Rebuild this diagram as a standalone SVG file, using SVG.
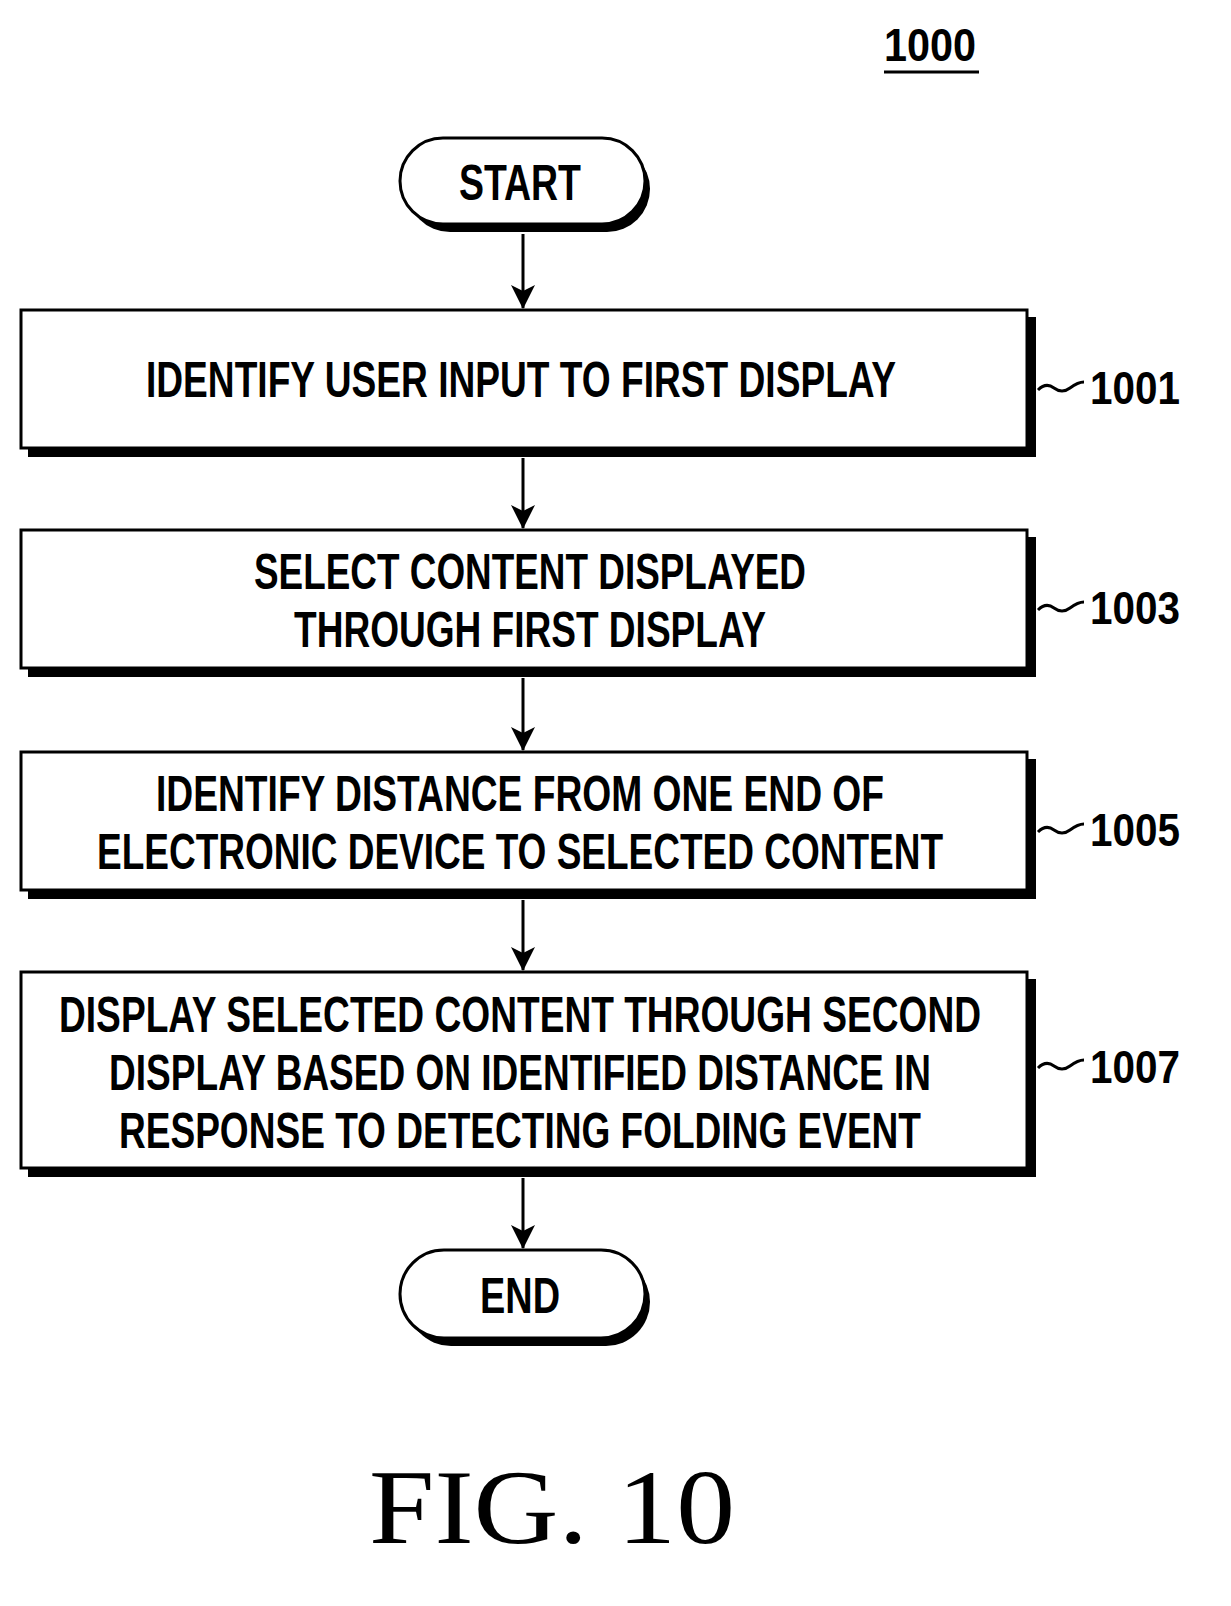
<svg xmlns="http://www.w3.org/2000/svg" width="1231" height="1606" viewBox="0 0 1231 1606">
<style>
.b{fill:#fff;stroke:#000;stroke-width:3}
.s{fill:#000}
.t{font-family:"Liberation Sans",Arial,sans-serif;font-weight:bold;font-size:50px;text-anchor:middle}
.r{font-family:"Liberation Sans",Arial,sans-serif;font-weight:bold;font-size:46px}
.c{fill:none;stroke:#000;stroke-width:3}
</style>
<defs>
<marker id="ah" viewBox="0 0 24 30" refX="23" refY="15" markerWidth="24" markerHeight="30" orient="auto" markerUnits="userSpaceOnUse"><path d="M0,3 L24,15 L0,27 L6,15 Z" fill="#000"/></marker></defs>
<text x="930" y="61" class="r" text-anchor="middle" textLength="92" lengthAdjust="spacingAndGlyphs">1000</text>
<line x1="884" y1="72" x2="979" y2="72" stroke="#000" stroke-width="3"/>
<g id="start"><rect x="407" y="146" width="243" height="86" rx="43" class="s"/><rect x="400" y="138" width="245" height="86" rx="43" class="b"/><text x="520" y="200" class="t" textLength="122" lengthAdjust="spacingAndGlyphs">START</text></g>
<g id="n1001"><rect x="28" y="317" width="1008" height="140" class="s"/><rect x="21" y="310" width="1006" height="138" class="b"/><text x="521" y="397" class="t" textLength="750" lengthAdjust="spacingAndGlyphs">IDENTIFY USER INPUT TO FIRST DISPLAY</text><text x="1090" y="404" class="r" textLength="90" lengthAdjust="spacingAndGlyphs">1001</text></g>
<g id="n1003"><rect x="28" y="537" width="1008" height="140" class="s"/><rect x="21" y="530" width="1006" height="138" class="b"/><text x="530" y="589" class="t" textLength="552" lengthAdjust="spacingAndGlyphs">SELECT CONTENT DISPLAYED</text><text x="530" y="647" class="t" textLength="472" lengthAdjust="spacingAndGlyphs">THROUGH FIRST DISPLAY</text><text x="1090" y="624" class="r" textLength="90" lengthAdjust="spacingAndGlyphs">1003</text></g>
<g id="n1005"><rect x="28" y="759" width="1008" height="140" class="s"/><rect x="21" y="752" width="1006" height="138" class="b"/><text x="520" y="811" class="t" textLength="728" lengthAdjust="spacingAndGlyphs">IDENTIFY DISTANCE FROM ONE END OF</text><text x="520" y="869" class="t" textLength="846" lengthAdjust="spacingAndGlyphs">ELECTRONIC DEVICE TO SELECTED CONTENT</text><text x="1090" y="846" class="r" textLength="90" lengthAdjust="spacingAndGlyphs">1005</text></g>
<g id="n1007"><rect x="28" y="979" width="1008" height="198" class="s"/><rect x="21" y="972" width="1006" height="196" class="b"/><text x="520" y="1032" class="t" textLength="922" lengthAdjust="spacingAndGlyphs">DISPLAY SELECTED CONTENT THROUGH SECOND</text><text x="520" y="1090" class="t" textLength="822" lengthAdjust="spacingAndGlyphs">DISPLAY BASED ON IDENTIFIED DISTANCE IN</text><text x="520" y="1148" class="t" textLength="802" lengthAdjust="spacingAndGlyphs">RESPONSE TO DETECTING FOLDING EVENT</text><text x="1090" y="1083" class="r" textLength="90" lengthAdjust="spacingAndGlyphs">1007</text></g>
<g id="end"><rect x="407" y="1258" width="243" height="88" rx="44" class="s"/><rect x="400" y="1250" width="245" height="88" rx="44" class="b"/><text x="520" y="1313" class="t" textLength="80" lengthAdjust="spacingAndGlyphs">END</text></g>
<g id="connectors">
<line x1="523" y1="234" x2="523" y2="308" class="c" marker-end="url(#ah)"/>
<line x1="523" y1="458" x2="523" y2="528" class="c" marker-end="url(#ah)"/>
<line x1="523" y1="678" x2="523" y2="750" class="c" marker-end="url(#ah)"/>
<line x1="523" y1="900" x2="523" y2="970" class="c" marker-end="url(#ah)"/>
<line x1="523" y1="1178" x2="523" y2="1248" class="c" marker-end="url(#ah)"/>
<path d="M1038,390 q8,-8 16,-2 t16,0 t14,-6" class="c"/>
<path d="M1038,610 q8,-8 16,-2 t16,0 t14,-6" class="c"/>
<path d="M1038,832 q8,-8 16,-2 t16,0 t14,-6" class="c"/>
<path d="M1038,1068 q8,-8 16,-2 t16,0 t14,-6" class="c"/>
</g>
<text x="552" y="1543" font-family="Liberation Serif,serif" font-size="106" text-anchor="middle" textLength="366" lengthAdjust="spacingAndGlyphs">FIG. 10</text>
</svg>
